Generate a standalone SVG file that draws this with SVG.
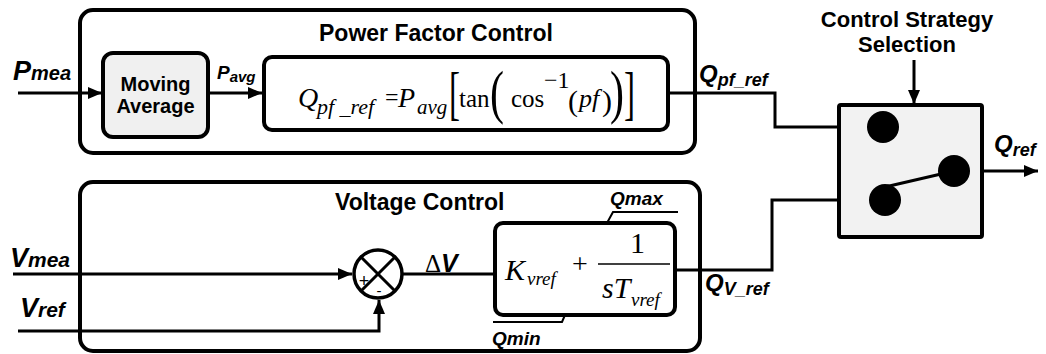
<svg xmlns="http://www.w3.org/2000/svg" width="1046" height="354" viewBox="0 0 1046 354">
<defs>
<style>
.box{fill:#fff;stroke:#000;stroke-width:4}
.gbox{fill:#f0f0f0;stroke:#000;stroke-width:4}
.ln{fill:none;stroke:#000;stroke-width:3}
.thin{fill:none;stroke:#000;stroke-width:2}
.arr{marker-end:url(#ah)}
.dot{fill:#000}
.title{font-family:"Liberation Sans",Arial,sans-serif;font-weight:bold;font-size:23px;fill:#000}
.lab{font-family:"Liberation Sans",Arial,sans-serif;font-weight:bold;font-style:italic;fill:#000}
.m{font-family:"Liberation Serif","Times New Roman",serif;fill:#000}
.mi{font-family:"Liberation Serif","Times New Roman",serif;font-style:italic;fill:#000}
</style>
<marker id="ah" viewBox="0 0 14 12" refX="14" refY="6" markerWidth="14" markerHeight="12" markerUnits="userSpaceOnUse" orient="auto">
<path d="M0,0 L14,6 L0,12 z" fill="#000"/>
</marker>
</defs>
<rect width="1046" height="354" fill="#fff"/>

<g id="pf-control">
<rect class="box" x="80" y="10" width="615" height="143" rx="13"/>
<text class="title" x="319" y="41">Power Factor Control</text>
</g>

<g id="voltage-control">
<rect class="box" x="80" y="182" width="620" height="169" rx="13"/>
<text class="title" x="335" y="210">Voltage Control</text>
</g>

<g id="connectors">
<line class="ln arr" x1="18" y1="93" x2="102" y2="93"/>
<line class="ln arr" x1="208" y1="93" x2="262" y2="93"/>
<polyline class="ln" points="668,93 775,93 775,127 883,127"/>
<polyline class="ln" points="675,270 772,270 772,200 885,200"/>
<line class="ln arr" x1="914" y1="60" x2="914" y2="104"/>
<line class="ln arr" x1="968" y1="171" x2="1038" y2="171"/>
<line class="ln arr" x1="13" y1="274" x2="352" y2="274"/>
<polyline class="ln arr" points="18,331 379,331 379,300"/>
<line class="ln" x1="403" y1="274" x2="495" y2="274"/>
<polyline class="thin" points="607,223 613,212 678,212"/>
<polyline class="thin" points="565,315 562,322 493,322"/>
</g>

<g id="moving-average">
<rect class="gbox" x="103" y="53" width="105" height="84" rx="10"/>
<text class="title" style="font-size:20px" x="155.5" y="91" text-anchor="middle">Moving</text>
<text class="title" style="font-size:20px" x="155.5" y="113" text-anchor="middle">Average</text>
</g>

<g id="pf-formula">
<rect class="box" x="264" y="57" width="404" height="73" rx="8"/>
<text class="mi" x="298" y="107" font-size="28">Q</text>
<text class="mi" x="317" y="114" font-size="22">pf _ref</text>
<text class="m" x="385" y="105" font-size="24">=</text>
<text class="mi" x="398" y="107" font-size="28">P</text>
<text class="mi" x="417" y="114" font-size="21">avg</text>
<text class="m" font-size="60" transform="translate(449,113) scale(0.55,1)">[</text>
<text class="m" x="459" y="107" font-size="25">tan</text>
<text class="m" font-size="60" transform="translate(490,112) scale(0.7,1)">(</text>
<text class="m" x="511" y="107" font-size="25">cos</text>
<text class="m" x="544" y="88" font-size="24">−1</text>
<text class="m" x="568" y="111" font-size="30">(</text>
<text class="mi" x="579" y="107" font-size="26">pf</text>
<text class="m" x="602" y="111" font-size="30">)</text>
<text class="m" font-size="60" transform="translate(610,112) scale(0.7,1)">)</text>
<text class="m" font-size="60" transform="translate(624,113) scale(0.55,1)">]</text>
</g>

<g id="summing-junction">
<circle cx="378" cy="274" r="24" fill="#fff" stroke="#000" stroke-width="3.5"/>
<line class="ln" x1="361" y1="257" x2="395" y2="291"/>
<line class="ln" x1="395" y1="257" x2="361" y2="291"/>
<text x="364" y="287" font-family="Liberation Sans,Arial,sans-serif" font-size="18" fill="#000" text-anchor="middle">+</text>
<text x="379" y="296" font-family="Liberation Sans,Arial,sans-serif" font-size="15" fill="#000" text-anchor="middle">-</text>
</g>

<g id="pi-controller">
<rect class="box" x="495" y="223" width="180" height="92" rx="8"/>
<text class="mi" x="505" y="280" font-size="30">K</text>
<text class="mi" x="527" y="285" font-size="19">vref</text>
<text class="m" x="572" y="273" font-size="28">+</text>
<line x1="598" y1="264" x2="670" y2="264" stroke="#000" stroke-width="1.5"/>
<text class="m" x="630" y="253" font-size="30">1</text>
<text class="mi" x="602" y="298" font-size="30">sT</text>
<text class="mi" x="631" y="306" font-size="19">vref</text>
</g>

<g id="switch">
<rect class="gbox" x="839" y="105" width="143" height="132" rx="2" style="fill:#f2f2f2"/>
<circle class="dot" cx="883" cy="127" r="16"/>
<circle class="dot" cx="885" cy="200" r="16"/>
<circle class="dot" cx="954" cy="171" r="16"/>
<line class="ln" x1="885" y1="187" x2="954" y2="171"/>
<text class="title" style="font-size:22px" x="907" y="27" text-anchor="middle">Control Strategy</text>
<text class="title" style="font-size:22px" x="907" y="52" text-anchor="middle">Selection</text>
</g>

<g id="labels">
<text class="lab" x="13" y="80" font-size="27">P<tspan font-size="20">mea</tspan></text>
<text class="lab" x="217" y="79" font-size="19">P<tspan font-size="15" dy="3">avg</tspan></text>
<text class="lab" x="699" y="82" font-size="24">Q<tspan font-size="18" dy="4">pf_ref</tspan></text>
<text class="lab" x="994" y="152" font-size="24">Q<tspan font-size="18" dy="4">ref</tspan></text>
<text class="lab" x="10" y="267" font-size="27">V<tspan font-size="21">mea</tspan></text>
<text class="lab" x="20" y="317" font-size="27">V<tspan font-size="21">ref</tspan></text>
<text class="lab" x="705" y="291" font-size="24">Q<tspan font-size="18" dy="4">V_ref</tspan></text>
<text class="lab" x="610" y="205" font-size="19">Qmax</text>
<text class="lab" x="492" y="345" font-size="19">Qmin</text>
<text x="425" y="272" font-size="25"><tspan class="m">Δ</tspan><tspan class="lab">V</tspan></text>
</g>
</svg>
